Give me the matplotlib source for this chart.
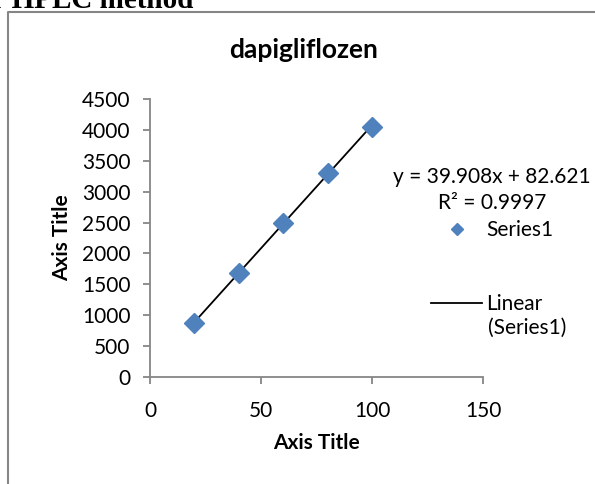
import numpy as np
import matplotlib.pyplot as plt
from matplotlib.lines import Line2D

# Calibration data
conc = [20, 40, 60, 80, 100]
area = [880, 1680, 2490, 3310, 4050]

plt.rcParams['font.family'] = ['Lato', 'DejaVu Sans']

fig = plt.figure(figsize=(5.95, 4.84), dpi=100)
ax = fig.add_axes([150 / 595, 1 - 377 / 484, 333 / 595, 278 / 484])

gray = '#868686'
blue = '#4F81BD'

ax.plot(conc, area, linestyle='none', marker='D', markersize=10,
        color=blue, label='Series1', zorder=3)

# linear trendline
slope, intercept = np.polyfit(conc, area, 1)
xs = np.array([conc[0], conc[-1]])
ax.plot(xs, slope * xs + intercept, color='black', linewidth=1.3,
        label='Linear', zorder=2)

ax.set_xlim(0, 150)
ax.set_ylim(0, 4500)
ax.set_xticks([0, 50, 100, 150])
ax.set_yticks(np.arange(0, 4501, 500))

for s in ['top', 'right']:
    ax.spines[s].set_visible(False)
for s in ['left', 'bottom']:
    ax.spines[s].set_color(gray)
    ax.spines[s].set_linewidth(1.3)

ax.tick_params(axis='both', colors=gray, labelcolor='black', length=5,
               width=1.3, labelsize=15)
ax.tick_params(axis='x', pad=12)
ax.tick_params(axis='y', pad=9)

ax.set_xlabel('Axis Title', fontsize=15, fontweight='bold', labelpad=9)
ax.set_ylabel('Axis Title', fontsize=15, fontweight='bold', labelpad=7)

fig.text(304 / 595, 1 - 50 / 484, 'dapigliflozen', fontsize=19,
         fontweight='bold', ha='center', va='center')

fig.text(492 / 595, 1 - 177 / 484, 'y = 39.908x + 82.621', fontsize=15,
         ha='center', va='center')
fig.text(492 / 595, 1 - 203 / 484, 'R² = 0.9997', fontsize=15,
         ha='center', va='center')

ax.legend(loc='upper left', bbox_to_anchor=(431 / 595, 1 - 220 / 484),
          bbox_transform=fig.transFigure, frameon=False, fontsize=15,
          handlelength=2.45, handletextpad=0.2, labelspacing=2.6,
          markerscale=0.65, borderpad=0, borderaxespad=0)
fig.text(488 / 595, 1 - 328 / 484, '(Series1)', fontsize=15,
         ha='left', va='center')

# chart area border (only left and top visible in the crop)
fig.add_artist(Line2D([8 / 595, 8 / 595, 1], [0, 1 - 12 / 484, 1 - 12 / 484],
                      transform=fig.transFigure, color=gray, linewidth=1.5))

# clipped heading from the surrounding document
fig.text(193 / 595, 1 - 8 / 484, 'r HPLC method', fontsize=21,
         fontweight='bold', family='Liberation Serif', ha='right',
         va='baseline')

fig.savefig('out.png', dpi=100)
